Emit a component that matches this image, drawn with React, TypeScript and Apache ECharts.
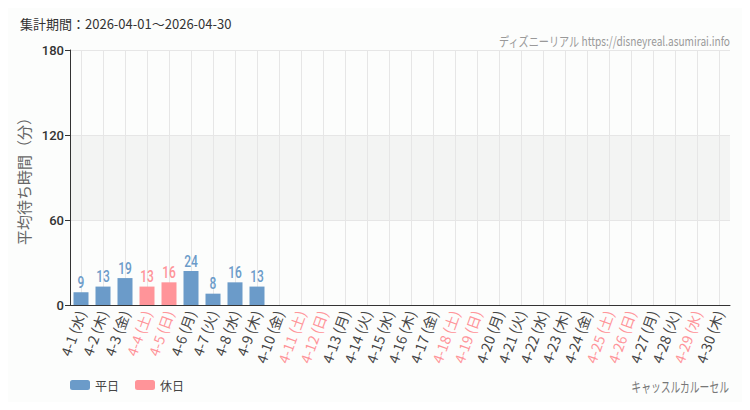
import React, { useEffect, useRef } from 'react';
import * as echarts from 'echarts';

const days = [
  '4-1(水)', '4-2(木)', '4-3(金)', '4-4(土)', '4-5(日)', '4-6(月)', '4-7(火)', '4-8(水)', '4-9(木)', '4-10(金)',
  '4-11(土)', '4-12(日)', '4-13(月)', '4-14(火)', '4-15(水)', '4-16(木)', '4-17(金)', '4-18(土)', '4-19(日)', '4-20(月)',
  '4-21(火)', '4-22(水)', '4-23(木)', '4-24(金)', '4-25(土)', '4-26(日)', '4-27(月)', '4-28(火)', '4-29(水)', '4-30(木)',
];
const holidays = ['4-4', '4-5', '4-11', '4-12', '4-18', '4-19', '4-25', '4-26', '4-29'];
const weekdayValues: (number | null)[] = [9, 13, 19, null, null, 24, 8, 16, 13];
const holidayValues: (number | null)[] = [null, null, null, 13, 16, null, null, null, null];
const yTicks = [0, 60, 120, 180];

const BLUE = '#6b9bc9';
const PINK = '#ff9499';
const JP = '"Noto Sans CJK JP", "Noto Sans", sans-serif';
const NUM = 'Roboto, sans-serif';

const isHoliday = (label: string) => holidays.includes(label.split('(')[0]);
const spaced = (label: string) => label.replace('(', ' (');

// label points for the custom label series: [index, value, colour]
const labelPoints = weekdayValues
  .map((v, i) => (v == null ? null : [i, v, 0]))
  .concat(holidayValues.map((v, i) => (v == null ? null : [i, v, 1])))
  .filter((p) => p !== null) as number[][];

const App: React.FC = () => {
  const chartRef = useRef<HTMLDivElement>(null);

  useEffect(() => {
    const chart = echarts.init(chartRef.current!, undefined, { renderer: 'svg' });

    const labelRich: Record<string, any> = {
      n: { color: '#444', fontSize: 14, fontFamily: JP },
      h: { color: PINK, fontSize: 14, fontFamily: JP },
    };

    chart.setOption({
      animation: false,
      backgroundColor: '#fcfdfc',
      grid: { left: 70, right: 20, top: 50, bottom: 105 },
      title: [
        {
          text: '集計期間：2026-04-01～2026-04-30',
          left: 15,
          top: 12,
          textStyle: { fontSize: 13, fontWeight: 'normal', color: '#333', fontFamily: JP },
        },
      ],
      graphic: [
        {
          type: 'text',
          x: 730,
          y: 40,
          scaleX: 0.78,
          style: {
            text: 'ディズニーリアル https://disneyreal.asumirai.info',
            fill: '#999',
            fontSize: 13,
            fontFamily: JP,
            textAlign: 'right',
            textVerticalAlign: 'middle',
          },
        },
        {
          type: 'text',
          x: 729,
          y: 386,
          scaleX: 0.7,
          style: {
            text: 'キャッスルカルーセル',
            fill: '#777',
            fontSize: 14,
            fontFamily: JP,
            textAlign: 'right',
            textVerticalAlign: 'middle',
          },
        },
      ],
      legend: {
        left: 65,
        top: 374,
        itemWidth: 20,
        itemHeight: 10,
        itemGap: 16,
        textStyle: { fontSize: 12, color: '#444', fontFamily: JP },
        data: ['平日', '休日'],
      },
      xAxis: {
        type: 'category',
        data: days,
        axisLine: { lineStyle: { color: '#333' } },
        axisTick: { alignWithLabel: true, length: 4, lineStyle: { color: '#333' } },
        splitLine: { show: true, alignWithLabel: true, lineStyle: { color: '#e6e6e6' } },
        axisLabel: {
          interval: 0,
          rotate: 70,
          margin: 6,
          formatter: (v: string) => (isHoliday(v) ? `{h|${spaced(v)}}` : `{n|${spaced(v)}}`),
          rich: labelRich,
        },
      },
      yAxis: {
        type: 'value',
        min: yTicks[0],
        max: yTicks[yTicks.length - 1],
        interval: 60,
        name: '平均待ち時間（分）',
        nameLocation: 'middle',
        nameGap: 38,
        nameTextStyle: { fontSize: 15, color: '#666', fontFamily: JP },
        axisLine: { show: true, lineStyle: { color: '#333' } },
        axisTick: { show: true, length: 5, lineStyle: { color: '#333' } },
        axisLabel: { fontSize: 13, color: '#333', margin: 6, fontFamily: NUM, fontWeight: 500 },
        splitLine: { show: true, lineStyle: { color: '#e6e6e6' } },
        splitArea: { show: true, areaStyle: { color: ['rgba(0,0,0,0)', '#f3f4f3'] } },
      },
      series: [
        {
          name: '平日',
          type: 'bar',
          stack: 'all',
          barWidth: 15,
          data: weekdayValues,
          itemStyle: { color: BLUE },
        },
        {
          name: '休日',
          type: 'bar',
          stack: 'all',
          barWidth: 15,
          data: holidayValues,
          itemStyle: { color: PINK },
        },
        {
          name: 'labels',
          type: 'custom',
          data: labelPoints,
          encode: { x: 0, y: 1 },
          z: 5,
          renderItem: (_params: any, api: any) => {
            const pt = api.coord([api.value(0), api.value(1)]);
            return {
              type: 'text',
              x: pt[0],
              y: pt[1] - 2,
              scaleX: 0.75,
              style: {
                text: String(api.value(1)),
                fill: api.value(2) === 1 ? PINK : BLUE,
                fontSize: 16,
                fontWeight: 500,
                fontFamily: NUM,
                textAlign: 'center',
                textVerticalAlign: 'bottom',
              },
            };
          },
        },
      ],
    });

    return () => {
      chart.dispose();
    };
  }, []);

  return <div ref={chartRef} style={{ width: 750, height: 410, margin: '-8px' }} />;
};

export default App;
